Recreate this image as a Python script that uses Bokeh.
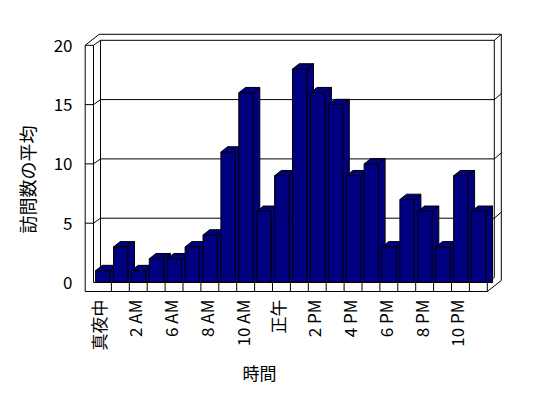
import math
from bokeh.plotting import figure
from bokeh.models import Range1d, FixedTicker, ColumnDataSource, Title
from bokeh.embed import file_html
from bokeh.resources import INLINE

# ---- data ----
hours = ["真夜中", "1 AM", "2 AM", "5 AM", "6 AM", "7 AM", "8 AM", "9 AM", "10 AM", "11 AM",
         "正午", "1 PM", "2 PM", "3 PM", "4 PM", "5 PM", "6 PM", "7 PM", "8 PM", "9 PM",
         "10 PM", "11 PM"]
visits = [1, 3, 1, 2, 2, 3, 4, 11, 16, 6, 9, 18, 16, 15, 9, 10, 3, 7, 6, 3, 9, 6]
y_ticks = [0, 5, 10, 15, 20]
x_title = "時間"
y_title = "訪問数の平均"

N = len(visits)
YMAX = y_ticks[-1]

# ---- geometry (page pixels) ----
X0, CW = 93.0, 17.9      # left edge of first category, px per category
Y0, UY = 282.0, 11.86    # pixel of value 0, px per unit
FL, FR, FT_, FB = 80, 506, 30, 294   # frame edges on the page


def xd(px):
    return (px - X0) / CW - 0.5


def yd(py):
    return (Y0 - py) / UY


def dxd(px):
    return px / CW


def dyd(px):
    return px / UY


BAR_A, BAR_B = dxd(2.1), dxd(16.4)
BDX, BDY = dxd(6.7), dyd(5.3)
WT, FLT = dxd(8.3), dyd(9.0)
DXI, DYI = dxd(7.0), dyd(5.0)
DXO, DYO = dxd(14.0), dyd(11.0)
LABEL_SHIFT = dxd(3.5)

W, H = 530, 396
p = figure(width=W, height=H, output_backend="svg", toolbar_location=None,
           x_range=Range1d(xd(FL), xd(FR)), y_range=Range1d(yd(FB), yd(FT_)),
           min_border_left=FL, min_border_right=W - FR,
           min_border_top=FT_, min_border_bottom=H - FB)
p.outline_line_color = None
p.xgrid.visible = False
p.ygrid.visible = False
p.background_fill_color = "white"
p.border_fill_color = "white"

FONT = "Noto Sans CJK JP"

# x axis: a label on every other category
label_idx = list(range(0, N, 2))
tick_pos = [i - LABEL_SHIFT for i in label_idx]
p.xaxis.ticker = FixedTicker(ticks=tick_pos)
p.xaxis.major_label_overrides = {t: hours[i] for t, i in zip(tick_pos, label_idx)}
p.xaxis.major_label_orientation = math.pi / 2
p.xaxis.axis_line_color = None
p.xaxis.major_tick_line_color = None
p.xaxis.minor_tick_line_color = None
p.xaxis.major_tick_out = 0
p.xaxis.major_label_standoff = 5
p.xaxis.major_label_text_font = FONT
p.xaxis.major_label_text_font_size = "17px"
p.xaxis.major_label_text_color = "black"

# y axis
p.yaxis.ticker = FixedTicker(ticks=y_ticks)
p.yaxis.axis_line_color = None
p.yaxis.major_tick_line_color = None
p.yaxis.minor_tick_line_color = None
p.yaxis.major_tick_out = 0
p.yaxis.major_label_standoff = 8
p.yaxis.major_label_text_font = FONT
p.yaxis.major_label_text_font_size = "17px"
p.yaxis.major_label_text_color = "black"

# ---- 3D box lines ----
L = -0.5
R = N - 0.5
segs = []
# left wall front face
segs += [([L - WT, L - WT], [-FLT, YMAX]), ([L, L], [0, YMAX]), ([L - WT, L], [YMAX, YMAX])]
# floor front face
segs += [([L - WT, R], [-FLT, -FLT]), ([L, R], [0, 0]), ([R, R], [-FLT, 0])]
for i in range(1, N):
    segs.append(([L + i, L + i], [-FLT, 0]))
# top edges
segs += [([L - WT, L - WT + DXO], [YMAX, YMAX + DYO]),
         ([L - WT + DXO, R + DXO], [YMAX + DYO, YMAX + DYO]),
         ([L, L + DXI], [YMAX, YMAX + DYI]),
         ([L + DXI, R + DXI], [YMAX + DYI, YMAX + DYI]),
         ([R + DXI, R + DXO], [YMAX + DYI, YMAX + DYO])]
# back wall verticals
segs += [([L + DXI, L + DXI], [YMAX + DYI, 0]),
         ([R + DXI, R + DXI], [YMAX + DYI, DYI]),
         ([R + DXO, R + DXO], [YMAX + DYO, -FLT + DYO])]
# floor right side
segs += [([R, R + DXO], [-FLT, -FLT + DYO]), ([R, R + DXI], [0, DYI])]
# gridlines
for v in y_ticks[1:-1]:
    segs.append(([L - WT, L, L + DXI, R + DXI, R + DXO],
                 [v, v, v + DYI, v + DYI, v + DYO]))

p.multi_line(xs=[s[0] for s in segs], ys=[s[1] for s in segs],
             line_color="black", line_width=1)

# ---- bars ----
idx = list(range(N))
lefts = [i - 0.5 + BAR_A for i in idx]
rights = [i - 0.5 + BAR_B for i in idx]
side_xs = [[r, r + BDX, r + BDX, r] for r in rights]
side_ys = [[0, 0, v + BDY, v] for v in visits]
top_xs = [[l, r, r + BDX, l + BDX] for l, r in zip(lefts, rights)]
top_ys = [[v, v, v + BDY, v + BDY] for v in visits]

NAVY = "#000080"
p.patches(xs=side_xs, ys=side_ys, fill_color=NAVY, line_color="black", line_width=1)
p.patches(xs=top_xs, ys=top_ys, fill_color=NAVY, line_color="black", line_width=1)
src = ColumnDataSource(dict(left=lefts, right=rights, top=visits, bottom=[0] * N))
p.quad(left="left", right="right", top="top", bottom="bottom", source=src,
       fill_color=NAVY, line_color="black", line_width=1)

# ---- axis titles ----
p.add_layout(Title(text=y_title, align="left", offset=61, standoff=21,
                   text_font=FONT, text_font_size="18px", text_font_style="normal",
                   text_color="black"), "left")
p.add_layout(Title(text=x_title, align="left", offset=162, standoff=9,
                   text_font=FONT, text_font_size="17px", text_font_style="normal",
                   text_color="black"), "below")

open("out.html", "w", encoding="utf-8").write(file_html(p, INLINE))
